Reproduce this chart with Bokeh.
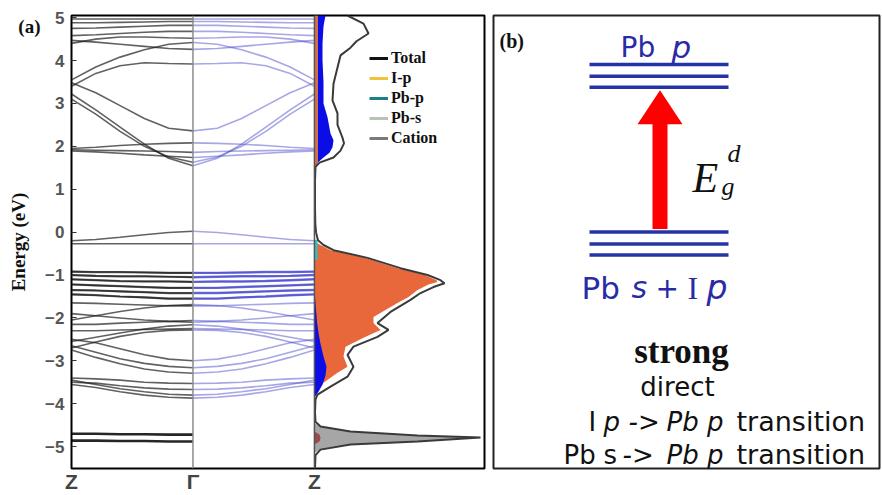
from bokeh.plotting import figure
from bokeh.layouts import row
from bokeh.models import (Range1d, FixedTicker, Span, Legend, LegendItem, LinearAxis)
from bokeh.core.properties import value
from bokeh.embed import file_html
from bokeh.resources import INLINE

# ---------------------------------------------------------------- data
# k-path samples from Z (0) to Gamma (1); the Gamma -> Z half is the mirror image
K = [0.0, 0.2, 0.4, 0.6, 0.8, 1.0]

cond_bands = [
    [4.97, 4.97, 4.97, 4.97, 4.97, 4.97],
    [4.88, 4.88, 4.89, 4.90, 4.91, 4.91],
    [4.75, 4.76, 4.78, 4.80, 4.82, 4.82],
    [4.58, 4.60, 4.63, 4.66, 4.68, 4.68],
    [4.47, 4.43, 4.38, 4.33, 4.28, 4.26],
    [4.40, 4.50, 4.55, 4.55, 4.53, 4.52],
    [3.55, 3.85, 4.08, 4.25, 4.38, 4.42],
    [3.40, 3.70, 3.88, 3.95, 3.93, 3.92],
    [3.48, 3.25, 2.95, 2.65, 2.42, 2.36],
    [3.22, 2.85, 2.45, 2.05, 1.72, 1.55],
    [3.10, 2.75, 2.35, 2.00, 1.75, 1.63],
    [1.95, 1.98, 2.02, 2.05, 2.07, 2.08],
    [1.92, 1.91, 1.90, 1.89, 1.88, 1.86],
    [1.89, 1.87, 1.84, 1.80, 1.77, 1.74],
]

val_bands = [
    [-0.20, -0.17, -0.12, -0.06, -0.01, 0.02],
    [-0.27, -0.27, -0.27, -0.27, -0.27, -0.27],
    [-1.65, -1.66, -1.68, -1.70, -1.72, -1.72],
    [-2.05, -1.95, -1.85, -1.77, -1.71, -1.69],
    [-1.90, -1.95, -2.00, -2.05, -2.08, -2.10],
    [-2.15, -2.15, -2.12, -2.10, -2.08, -2.06],
    [-2.30, -2.30, -2.28, -2.27, -2.26, -2.25],
    [-2.55, -2.45, -2.35, -2.26, -2.19, -2.16],
    [-2.70, -2.56, -2.43, -2.34, -2.29, -2.28],
    [-2.50, -2.58, -2.72, -2.86, -2.96, -3.00],
    [-2.65, -2.80, -2.95, -3.06, -3.13, -3.16],
    [-2.75, -2.92, -3.07, -3.19, -3.26, -3.29],
    [-3.40, -3.42, -3.45, -3.50, -3.52, -3.53],
    [-3.50, -3.52, -3.58, -3.63, -3.66, -3.67],
    [-3.45, -3.55, -3.65, -3.72, -3.78, -3.80],
    [-3.55, -3.62, -3.72, -3.80, -3.85, -3.87],
]

# dense Pb-p rich valence manifold
dense_bands = [
    [-0.92, -0.93, -0.93, -0.94, -0.95, -0.95],
    [-1.00, -1.02, -1.03, -1.03, -1.04, -1.05],
    [-1.10, -1.12, -1.14, -1.15, -1.15, -1.16],
    [-1.22, -1.24, -1.26, -1.28, -1.30, -1.30],
    [-1.35, -1.36, -1.38, -1.40, -1.42, -1.42],
    [-1.45, -1.47, -1.50, -1.52, -1.55, -1.55],
]

core_bands = [
    [-4.70, -4.70, -4.71, -4.71, -4.72, -4.72],
    [-4.86, -4.86, -4.87, -4.87, -4.88, -4.88],
]

# total density of states
E_total = [5.05, 4.86, 4.63, 4.45, 4.30, 4.12, 3.84, 3.46, 3.07, 2.77, 2.50, 2.20,
           2.07, 1.90, 1.74, 1.62, 1.52, 1.20, 0.60, 0.20, 0.00, -0.10, -0.19,
           -0.30, -0.42, -0.60, -0.84, -1.00, -1.12, -1.19, -1.28, -1.42, -1.58,
           -1.86, -2.12, -2.28, -2.44, -2.67, -2.86, -3.14, -3.37, -3.60, -3.79,
           -3.90, -4.20, -4.42, -4.53, -4.65, -4.74, -4.79, -4.88, -4.95, -5.07,
           -5.20, -5.51]
DOS_total = [3.3, 4.9, 5.4, 4.2, 3.6, 2.6, 2.3, 1.9, 1.8, 2.3, 2.3, 2.8,
             2.95, 2.6, 1.9, 0.5, 0.1, 0.05, 0.05, 0.08, 0.15, 0.25, 0.35,
             0.9, 1.9, 5.3, 8.6, 11.3, 12.6, 13.0, 11.9, 10.6, 9.6,
             7.6, 6.3, 7.4, 6.3, 3.9, 3.3, 3.9, 3.3, 1.6, 0.3,
             0.1, 0.05, 0.1, 0.6, 3.6, 10.3, 16.6, 10.3, 3.6, 0.6,
             0.1, 0.05]

# I-p projected DOS
E_ip = [-0.22, -0.30, -0.42, -0.60, -0.84, -1.00, -1.12, -1.16, -1.22, -1.35, -1.51,
        -1.65, -1.98, -2.12, -2.28, -2.45, -2.67, -2.90, -3.14, -3.28, -3.51, -3.72, -3.85]
DOS_ip = [0.0, 0.6, 1.6, 5.0, 8.3, 11.0, 12.2, 12.3, 11.4, 10.3, 9.4,
          8.3, 5.9, 5.9, 6.6, 5.0, 3.1, 2.9, 3.3, 2.3, 0.9, 0.3, 0.0]
E_ip_cb = [5.05, 1.55]
DOS_ip_cb = [0.35, 0.35]

# Pb-p projected DOS
E_pbp_cb = [5.05, 4.80, 4.40, 4.00, 3.50, 3.00, 2.68, 2.30, 2.14, 1.98, 1.85, 1.74, 1.62, 1.55]
DOS_pbp_cb = [1.1, 0.9, 0.8, 0.8, 0.9, 0.9, 1.3, 1.6, 1.9, 1.8, 1.5, 0.9, 0.3, 0.0]
E_pbp_vb = [-1.50, -1.80, -2.10, -2.35, -2.60, -2.90, -3.14, -3.35, -3.55, -3.72, -3.85]
DOS_pbp_vb = [0.05, 0.15, 0.25, 0.4, 0.6, 0.9, 1.2, 1.1, 0.8, 0.4, 0.0]
E_pbp_top = [-0.18, -0.65]
DOS_pbp_top = [0.3, 0.3]

# cation and Pb-s semicore peak
E_cat = [-4.45, -4.53, -4.65, -4.74, -4.79, -4.88, -4.95, -5.07, -5.15]
DOS_cat = [0.0, 0.5, 3.4, 10.0, 16.2, 10.0, 3.4, 0.5, 0.0]
E_pbs = [-4.65, -4.72, -4.80, -4.88, -4.95]
DOS_pbs = [0.0, 0.5, 0.6, 0.5, 0.0]

energy_ticks = [-5, -4, -3, -2, -1, 0, 1, 2, 3, 4, 5]
kpoint_ticks = [0, 1, 2]
kpoint_labels = ["Z", "\u0393", "Z"]

legend_names = ["Total", "I-p", "Pb-p", "Pb-s", "Cation"]
legend_colors = ["#111111", "#f2c23a", "#1e7f8c", "#b7c4b5", "#7a7a7a"]

# ---------------------------------------------------------------- panel (a)
pa = figure(width=490, height=495, output_backend="svg", toolbar_location=None,
            x_range=Range1d(0, 3.4), y_range=Range1d(-5.51, 5.05),
            min_border_left=71, min_border_right=6, min_border_top=15,
            min_border_bottom=26)
pa.extra_x_ranges = {"dos": Range1d(-24.3, 17.0)}
pa.grid.visible = False
pa.outline_line_color = "black"
pa.outline_line_width = 2
pa.outline_line_alpha = 1.0
pa.background_fill_color = "white"
pa.border_fill_color = "white"

ya = pa.yaxis[0]
ya.ticker = FixedTicker(ticks=energy_ticks)
ya.major_label_text_font = "Liberation Sans"
ya.major_label_text_font_style = "bold"
ya.major_label_text_font_size = "17px"
ya.major_label_text_color = "#555555"
ya.major_label_standoff = 7
ya.major_tick_in = 5
ya.major_tick_out = 0
ya.minor_tick_in = 0
ya.minor_tick_out = 0
ya.minor_tick_line_color = None
ya.major_tick_line_color = "#333333"
ya.axis_line_color = None

# outer left axis: panel tag and the energy title
tag_axis = LinearAxis(ticker=FixedTicker(ticks=[4.79]),
                      major_label_overrides={4.79: "(a)"},
                      major_label_text_font="Liberation Serif",
                      major_label_text_font_style="bold",
                      major_label_text_font_size="19px",
                      major_label_text_color="#111111",
                      major_label_standoff=2,
                      major_tick_in=0, major_tick_out=0,
                      minor_tick_in=0, minor_tick_out=0,
                      major_tick_line_color=None, minor_tick_line_color=None,
                      axis_line_color=None,
                      axis_label="Energy (eV)",
                      axis_label_text_font="Liberation Serif",
                      axis_label_text_font_style="bold",
                      axis_label_text_font_size="19px",
                      axis_label_text_color="#111111",
                      axis_label_standoff=-14)
pa.add_layout(tag_axis, "left")

xa = pa.xaxis[0]
xa.ticker = FixedTicker(ticks=kpoint_ticks)
xa.major_label_overrides = {t: s for t, s in zip(kpoint_ticks, kpoint_labels)}
xa.major_label_text_font = "Liberation Sans"
xa.major_label_text_font_style = "bold"
xa.major_label_text_font_size = "21px"
xa.major_label_text_color = "#444444"
xa.major_label_standoff = 1
xa.major_tick_in = 0
xa.major_tick_out = 0
xa.minor_tick_in = 0
xa.minor_tick_out = 0
xa.major_tick_line_color = None
xa.minor_tick_line_color = None
xa.axis_line_color = None

# band structure: Z -> Gamma (plain) and Gamma -> Z (projected, blue)
all_plain = cond_bands + val_bands + dense_bands
left_x = [K] * len(all_plain)
right_x = [[2 - k for k in K]] * len(all_plain)
pa.multi_line(left_x, all_plain, line_color="#1e1e1e", line_alpha=0.7, line_width=1.6)
pa.multi_line([K] * len(dense_bands), dense_bands, line_color="#111111",
              line_alpha=0.6, line_width=2.2)
pa.multi_line([K] * len(core_bands), core_bands, line_color="#000000",
              line_alpha=0.85, line_width=2.6)

pa.multi_line(right_x, all_plain, line_color="#5050cc", line_alpha=0.5, line_width=1.6)
pa.multi_line([[2 - k for k in K]] * len(dense_bands), dense_bands,
              line_color="#2323c8", line_alpha=0.6, line_width=2.4)

pa.add_layout(Span(location=1, dimension="height", line_color="#8c8c8c", line_width=1.5))

# projected density of states
pa.harea(x1=[0] * len(E_cat), x2=DOS_cat, y=E_cat, fill_color="#a6a6a6",
         x_range_name="dos")
pa.harea(x1=[0] * len(E_pbs), x2=DOS_pbs, y=E_pbs, fill_color="#9c4a4a",
         x_range_name="dos")
pa.harea(x1=[0] * len(E_ip), x2=DOS_ip, y=E_ip, fill_color="#e8683c",
         x_range_name="dos")
pa.harea(x1=[0] * len(E_pbp_cb), x2=DOS_pbp_cb, y=E_pbp_cb, fill_color="#0c0ce6",
         x_range_name="dos")
pa.harea(x1=[0] * len(E_pbp_vb), x2=DOS_pbp_vb, y=E_pbp_vb, fill_color="#0c0ce6",
         x_range_name="dos")
pa.harea(x1=[0, 0], x2=DOS_ip_cb, y=E_ip_cb, fill_color="#d0704a",
         x_range_name="dos")
pa.harea(x1=[0, 0], x2=DOS_pbp_top, y=E_pbp_top, fill_color="#33c0c0",
         x_range_name="dos")
pa.line(x=DOS_total, y=E_total, line_color="#3a3a3a", line_width=2,
        x_range_name="dos")
pa.add_layout(Span(location=2, dimension="height", line_color="#555555", line_width=1.5))

# legend swatches: an off-range segment per entry, so only the legend shows them
items = []
for name, col in zip(legend_names, legend_colors):
    r = pa.line(x=[-9, -9], y=[-99, -98], line_color=col, line_width=3)
    items.append(LegendItem(label=name, renderers=[r]))
legend = Legend(items=items, location=(298, 321), border_line_color=None,
                background_fill_alpha=0, padding=0, margin=0, spacing=2,
                glyph_width=19, glyph_height=14, label_height=14, label_standoff=3,
                label_text_font="Liberation Serif", label_text_font_style="bold",
                label_text_font_size="16px", label_text_color="#111111")
pa.add_layout(legend)

# ---------------------------------------------------------------- panel (b)
# schematic drawn in page pixels; the framed area is the panel box itself
pb = figure(width=392, height=495, output_backend="svg", toolbar_location=None,
            x_range=Range1d(493, 879), y_range=Range1d(469, 15),
            x_axis_location=None, y_axis_location=None,
            min_border_left=3, min_border_right=3,
            min_border_top=15, min_border_bottom=26)
pb.grid.visible = False
pb.outline_line_color = "#222222"
pb.outline_line_width = 2
pb.outline_line_alpha = 1.0
pb.background_fill_color = "white"
pb.border_fill_color = "white"

BLUE = "#2433a6"
pb.segment(x0=[589] * 3, x1=[728] * 3, y0=[64, 76, 87], y1=[64, 76, 87],
           line_color=BLUE, line_width=3.5)
pb.segment(x0=[589] * 3, x1=[728] * 3, y0=[232, 244, 255], y1=[232, 244, 255],
           line_color=BLUE, line_width=3.5)

# excitation arrow
pb.quad(left=652, right=667, top=123, bottom=229, fill_color="#ff0000", line_color=None)
pb.patch(x=[637, 682, 659.5], y=[124, 124, 90], fill_color="#ff0000", line_color=None)


def put(x, y, s, font="DejaVu Sans", size="26px", style="normal", color="#111111",
        align="left"):
    pb.text(x=[x], y=[y], text=[s], text_font=value(font), text_font_size=size,
            text_font_style=style, text_color=color, text_align=align,
            text_baseline="alphabetic")


TXT_BLUE = "#2a2aa6"
put(499, 41, "(b)", font="Liberation Serif", size="20px", style="bold")

put(620, 47, "Pb", size="28px", color=TXT_BLUE)
put(671, 47, "p", size="31px", style="italic", color=TXT_BLUE)

put(581, 288, "Pb", size="31px", color=TXT_BLUE)
put(631, 288, "s", size="30px", style="italic", color=TXT_BLUE)
put(655, 288, "+", size="28px", color=TXT_BLUE)
put(687, 288, "I", font="Liberation Serif", size="32px", color=TXT_BLUE)
put(706, 288, "p", size="33px", style="italic", color=TXT_BLUE)

put(692, 178, "E", font="Liberation Serif", size="42px", style="italic")
put(727, 153, "d", font="Liberation Serif", size="26px", style="italic")
put(721, 186, "g", font="Liberation Serif", size="26px", style="italic")

put(681, 352, "strong", font="Liberation Serif", size="35px", style="bold",
    align="center")
put(677, 387, "direct", size="26px", align="center")

put(588, 422, "I", size="26px")
put(603, 422, "p", size="26px", style="italic")
put(628, 422, "->", size="26px", style="italic")
put(666, 422, "Pb p", size="26px", style="italic")
put(736, 422, "transition", size="27px")

put(563, 455, "Pb", size="26px")
put(603, 455, "s", size="26px")
put(622, 455, "->", size="26px", style="italic")
put(666, 455, "Pb p", size="26px", style="italic")
put(736, 455, "transition", size="27px")

layout = row(pa, pb, spacing=0)
open("out.html", "w").write(file_html(layout, INLINE))
